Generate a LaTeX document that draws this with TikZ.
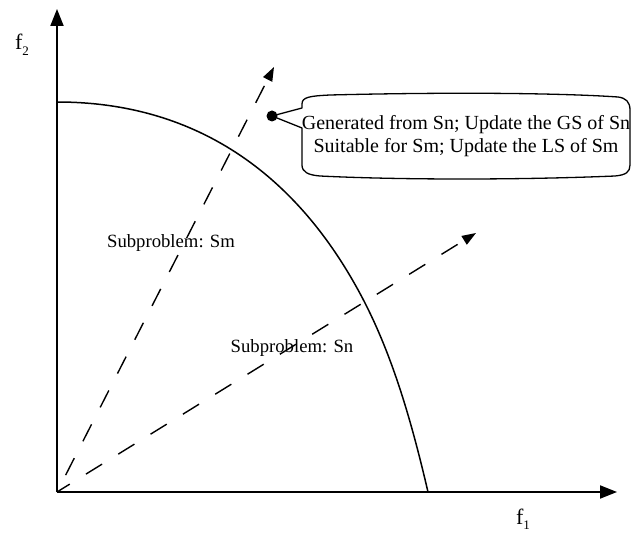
\documentclass[tikz,border=0pt]{standalone}
\usepackage{fontspec}
\setmainfont{Liberation Serif}
\usetikzlibrary{arrows.meta}
\begin{document}
\begin{tikzpicture}[x=1pt,y=-1pt,
  axisline/.style={line width=2pt,-{Triangle[length=17pt,width=13pt]}},
  dirline/.style={line width=1.4pt,dash pattern=on 19pt off 19pt,-{Triangle[length=14pt,width=10pt]}},
  front/.style={line width=1.5pt},
  callout/.style={line width=1.3pt,line join=round},
  lbl/.style={font=\fontsize{18.7}{22}\selectfont,inner sep=0pt},
  axlbl/.style={font=\fontsize{22}{22}\selectfont,inner sep=0pt}]
\useasboundingbox (0,0) rectangle (640,537);
% coordinates
\coordinate (O) at (57,492);
\coordinate (ytop) at (57,9);
\coordinate (xend) at (617,492);
\coordinate (smtip) at (274,67);
\coordinate (sntip) at (476,233);
% axes
\draw[axisline] (O) -- (ytop);
\draw[axisline] (O) -- (xend);
% Pareto front
\draw[front] (57,102) .. controls (200,102) and (301,178) .. (365,303)
  .. controls (395,362) and (413,428) .. (428,492);
% direction vectors
\draw[dirline,dash phase=19pt] (O) -- (smtip);
\draw[dirline,dash phase=4pt] (O) -- (sntip);
% labels
\node[lbl] (lsm) at (171,243) {Subproblem: Sm};
\node[lbl] (lsn) at (292,348) {Subproblem: Sn};
\node[axlbl,anchor=base] (f2) at (22,50) {f\raisebox{-6pt}{\fontsize{13}{13}\selectfont 2}};
\node[axlbl,anchor=base] (f1) at (523,524) {f\raisebox{-5pt}{\fontsize{13}{13}\selectfont 1}};
% solution point and callout
\node[circle,fill=black,inner sep=0pt,minimum size=11pt] (dot) at (272,116) {};
\draw[callout] (302,108) -- (302,104) .. controls (302,97) and (310,96) .. (330,95)
  .. controls (450,92) and (560,93) .. (618,97)
  .. controls (626,98) and (630,102) .. (630,110) -- (630,165)
  .. controls (630,172) and (626,175) .. (615,176)
  .. controls (520,180) and (400,180) .. (320,176)
  .. controls (308,175) and (302,172) .. (302,165) -- (302,128) -- (dot.center) -- cycle;
\node[align=center,inner sep=0pt,font=\fontsize{20}{23}\selectfont] (ctext) at (466,136)
  {Generated from Sn; Update the GS of Sn\\Suitable for Sm; Update the LS of Sm};
\end{tikzpicture}
\end{document}
